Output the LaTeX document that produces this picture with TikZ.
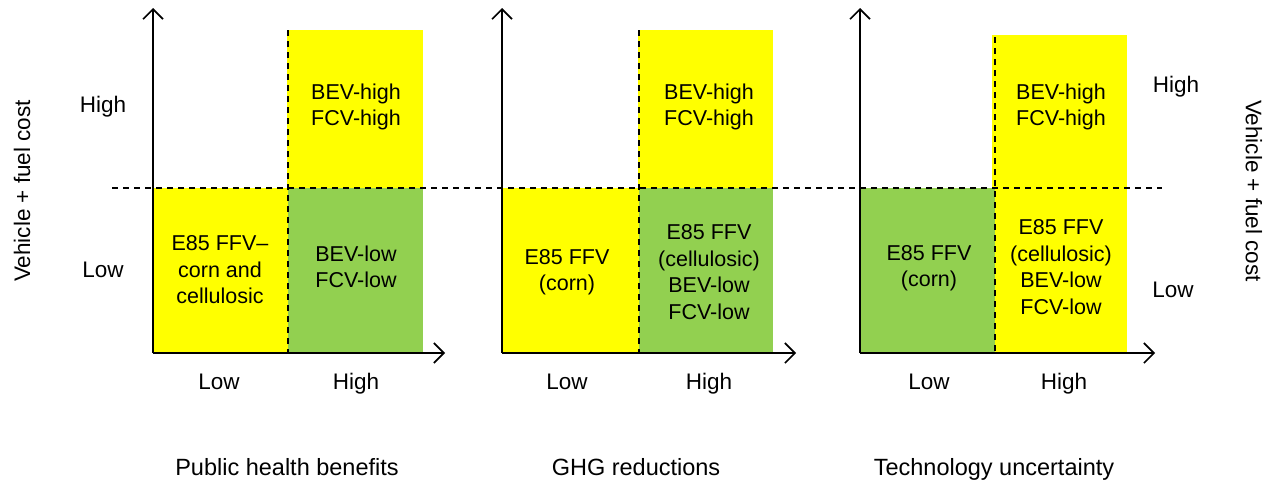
\documentclass[tikz,border=0pt]{standalone}
\usepackage{fontspec}
\setmainfont{Liberation Sans}
\usetikzlibrary{arrows.meta}
\definecolor{cyel}{HTML}{FFFF00}
\definecolor{cgrn}{HTML}{92D050}
\begin{document}
\begin{tikzpicture}[x=1pt,y=-1pt,
  axis/.style={line width=1.6pt,-{Straight Barb[length=10pt,width=20pt,line width=1.6pt]}},
  dline/.style={line width=1.5pt,dash pattern=on 6pt off 5pt},
  txt/.style={align=center,inner sep=0pt,font=\fontsize{21.5}{26.5}\selectfont},
  lbl/.style={inner sep=0pt,font=\fontsize{22.5}{26}\selectfont},
  ttl/.style={inner sep=0pt,anchor=base,font=\fontsize{23.5}{27}\selectfont}]
\useasboundingbox (0,0) rectangle (1272,482);
% panel 1
\fill[cyel] (287,30) rectangle (423,188);
\fill[cyel] (153,188) rectangle (288,353);
\fill[cgrn] (288,188) rectangle (423,353);
% panel 2
\fill[cyel] (638,30) rectangle (773,188);
\fill[cyel] (502,188) rectangle (639,353);
\fill[cgrn] (639,188) rectangle (773,353);
% panel 3
\fill[cyel] (992,35) rectangle (1127,188);
\fill[cgrn] (860,188) rectangle (995,353);
\fill[cyel] (995,188) rectangle (1127,353);
% dashed lines
\coordinate (hl) at (112,188);
\coordinate (hr) at (1162,188);
\draw[dline] (hl) -- (hr);
\coordinate (v1t) at (288,30); \coordinate (v1b) at (288,353);
\coordinate (v2t) at (639,30); \coordinate (v2b) at (639,353);
\coordinate (v3t) at (995,37); \coordinate (v3b) at (995,353);
\draw[dline] (v1t) -- (v1b);
\draw[dline] (v2t) -- (v2b);
\draw[dline] (v3t) -- (v3b);
% axes
\coordinate (o1) at (153,353); \coordinate (y1) at (153,8); \coordinate (x1) at (445,353);
\coordinate (o2) at (502,353); \coordinate (y2) at (502,8); \coordinate (x2) at (796,353);
\coordinate (o3) at (860,353); \coordinate (y3) at (860,8); \coordinate (x3) at (1155,353);
\draw[axis] (o1) -- (y1);
\draw[axis] (o1) -- (x1);
\draw[axis] (o2) -- (y2);
\draw[axis] (o2) -- (x2);
\draw[axis] (o3) -- (y3);
\draw[axis] (o3) -- (x3);
% box texts
\node[txt] (a1) at (356,107) {BEV-high\\FCV-high};
\node[txt] (b1) at (220,270) {E85 FFV–\\corn and\\cellulosic};
\node[txt] (c1) at (356,267) {BEV-low\\FCV-low};
\node[txt] (a2) at (709,107) {BEV-high\\FCV-high};
\node[txt] (b2) at (567,272) {E85 FFV\\(corn)};
\node[txt] (c2) at (709,272) {E85 FFV\\(cellulosic)\\BEV-low\\FCV-low};
\node[txt] (a3) at (1061,107) {BEV-high\\FCV-high};
\node[txt] (b3) at (929,268) {E85 FFV\\(corn)};
\node[txt] (c3) at (1061,267) {E85 FFV\\(cellulosic)\\BEV-low\\FCV-low};
% axis labels
\node[lbl] (hL) at (103,107) {High};
\node[lbl] (lL) at (103,270) {Low};
\node[lbl] (hR) at (1176,87) {High};
\node[lbl] (lR) at (1173,290) {Low};
\node[lbl,rotate=90] (vL) at (22,191) {Vehicle + fuel cost};
\node[lbl,rotate=-90] (vR) at (1254,191) {Vehicle + fuel cost};
\node[lbl,anchor=base] (xl1) at (219,389) {Low};
\node[lbl,anchor=base] (xh1) at (356,389) {High};
\node[lbl,anchor=base] (xl2) at (567,389) {Low};
\node[lbl,anchor=base] (xh2) at (709,389) {High};
\node[lbl,anchor=base] (xl3) at (929,389) {Low};
\node[lbl,anchor=base] (xh3) at (1064,389) {High};
\node[ttl] (t1) at (287,475) {Public health benefits};
\node[ttl] (t2) at (636,475) {GHG reductions};
\node[ttl] (t3) at (994,475) {Technology uncertainty};
\end{tikzpicture}
\end{document}
